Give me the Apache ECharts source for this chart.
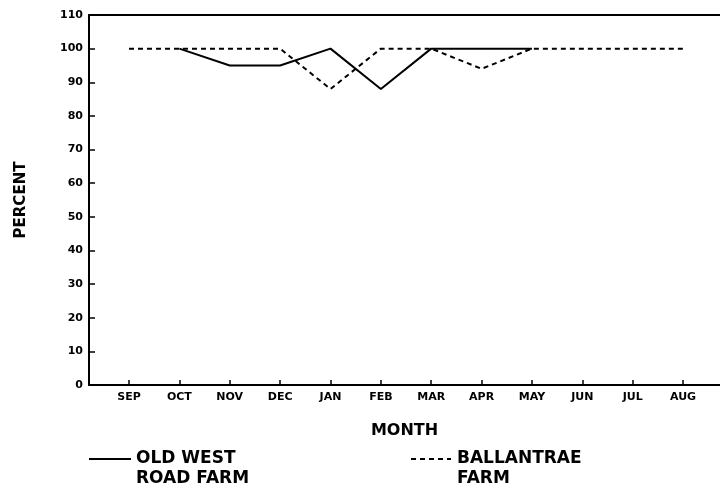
<!DOCTYPE html>
<html>
<head>
<meta charset="utf-8">
<script src="https://cdn.jsdelivr.net/npm/echarts@6/dist/echarts.min.js"></script>
<style>html,body{margin:0;padding:0;background:#fff;}#c{width:720px;height:491px;}</style>
</head>
<body>
<div id="c"></div>
<script>
var months = ['SEP','OCT','NOV','DEC','JAN','FEB','MAR','APR','MAY','JUN','JUL','AUG'];
var oldWest = [null, 100, 95, 95, 100, 88, 100, 100, 100, null, null, null];
var ballantrae = [100, 100, 100, 100, 88, 100, 100, 94, 100, 100, 100, 100];
var yTicks = [0,10,20,30,40,50,60,70,80,90,100,110];
var nameOld = 'OLD WEST\nROAD FARM';
var nameBal = 'BALLANTRAE\nFARM';

var idx = months.map(function(m,i){return i;});
function pairs(arr){ return arr.map(function(v,i){ return [i, v]; }); }

var FONT = 'DejaVu Sans';
var chart = echarts.init(document.getElementById('c'), null, {renderer:'canvas'});
var legendText = {fontFamily: FONT, fontWeight: 'bold', fontSize: 17, color: '#000', lineHeight: 20};
var legendFmt = function(n){ return '\n' + n; };
var dashIcon = 'path://M0,0h5v2h-5zM9,0h5v2h-5zM18,0h5v2h-5zM27,0h5v2h-5zM36,0h4v2h-4z';
chart.setOption({
  animation: false,
  backgroundColor: '#fff',
  grid: {left: 89, top: 15, right: 0, bottom: 106},
  xAxis: [{
    type: 'value', min: -0.794, max: 11.733,
    name: 'MONTH', nameLocation: 'middle', nameGap: 38,
    nameTextStyle: {fontFamily: FONT, fontWeight: 'bold', fontSize: 16, color: '#000'},
    axisLine: {show: true, onZero: false, lineStyle: {color: '#000', width: 2}},
    axisTick: {show: true, inside: true, length: 5, customValues: idx, lineStyle: {color: '#000', width: 1.5}},
    axisLabel: {customValues: idx, margin: 7, fontFamily: FONT, fontWeight: 'bold', fontSize: 11, color: '#000',
      formatter: function(v){ return months[Math.round(v)] || ''; }},
    splitLine: {show: false}
  }, {
    type: 'value', position: 'top', min: -0.794, max: 11.733,
    axisLine: {show: true, onZero: false, lineStyle: {color: '#000', width: 2}},
    axisTick: {show: false}, axisLabel: {show: false}, splitLine: {show: false}
  }],
  yAxis: {
    type: 'value', min: 0, max: 110, interval: 10,
    name: 'PERCENT', nameLocation: 'middle', nameGap: 60, nameRotate: 90,
    nameTextStyle: {fontFamily: FONT, fontWeight: 'bold', fontSize: 15, color: '#000'},
    axisLine: {show: true, onZero: false, lineStyle: {color: '#000', width: 2}},
    axisTick: {show: true, inside: true, length: 6, lineStyle: {color: '#000', width: 1.5}},
    axisLabel: {margin: 6, fontFamily: FONT, fontWeight: 'bold', fontSize: 11, color: '#000',
      formatter: function(v){ return yTicks.indexOf(v) >= 0 ? String(v) : ''; }},
    splitLine: {show: false}
  },
  legend: [
    {data: [{name: nameOld, icon: 'rect', itemStyle: {color: '#000'}}], left: 84, top: 424, itemWidth: 42, itemHeight: 2, padding: 5,
     formatter: legendFmt, textStyle: legendText},
    {data: [{name: nameBal, icon: dashIcon, itemStyle: {color: '#000'}}], left: 406, top: 424, itemWidth: 42, itemHeight: 2, padding: 5,
     formatter: legendFmt, textStyle: legendText}
  ],
  series: [
    {name: nameOld, type: 'line', data: pairs(oldWest), symbol: 'none', connectNulls: false,
     lineStyle: {color: '#000', width: 2, type: 'solid'}, itemStyle: {color: '#000'}},
    {name: nameBal, type: 'line', data: pairs(ballantrae), symbol: 'none',
     lineStyle: {color: '#000', width: 2, type: [5, 4]}, itemStyle: {color: '#000'}}
  ]
});
</script>
</body>
</html>
